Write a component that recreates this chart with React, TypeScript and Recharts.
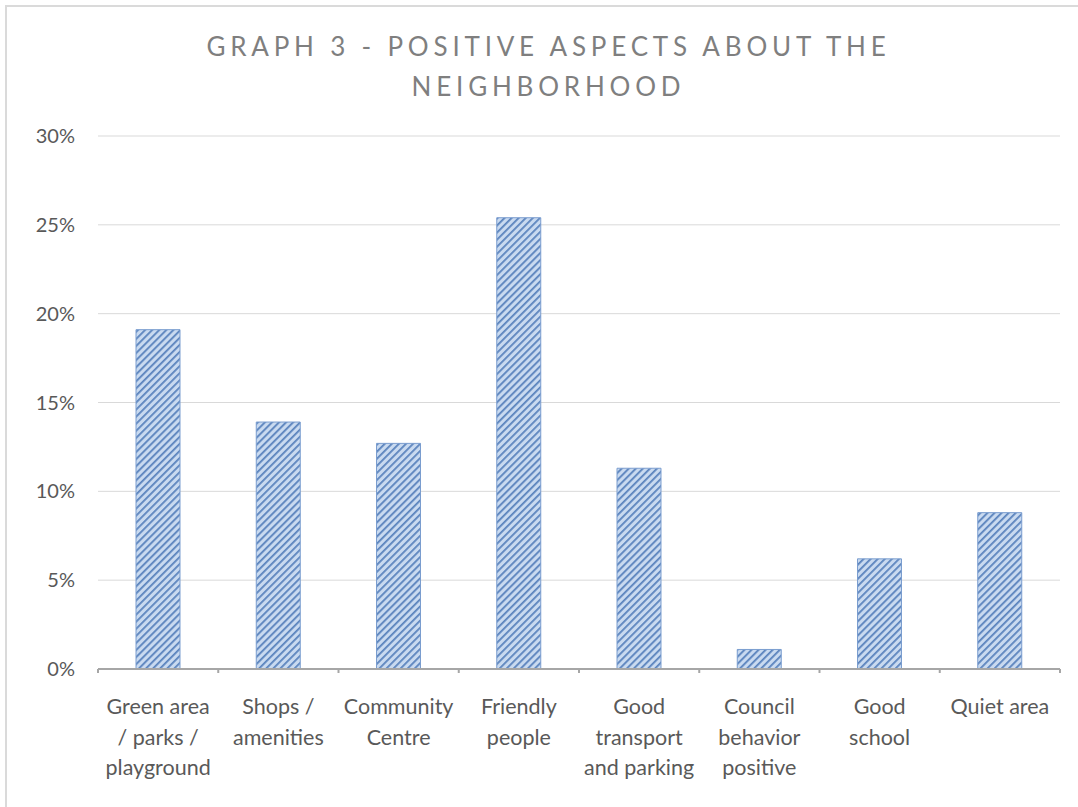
import React from "react";
import { BarChart, Bar, XAxis, YAxis, CartesianGrid } from "recharts";

const categories = [
  "Green area / parks / playground",
  "Shops / amenities",
  "Community Centre",
  "Friendly people",
  "Good transport and parking",
  "Council behavior positive",
  "Good school",
  "Quiet area",
];
const tickLines = [
  ["Green area", "/ parks /", "playground"],
  ["Shops /", "amenities"],
  ["Community", "Centre"],
  ["Friendly", "people"],
  ["Good", "transport", "and parking"],
  ["Council", "behavior", "positive"],
  ["Good", "school"],
  ["Quiet area"],
];
const values = [19.1, 13.9, 12.7, 25.4, 11.3, 1.1, 6.2, 8.8];
const yTicks = [0, 5, 10, 15, 20, 25, 30];
const titleLines = ["GRAPH 3 - POSITIVE ASPECTS ABOUT THE", "NEIGHBORHOOD"];

const data = categories.map((c, i) => ({ name: c, value: values[i], idx: i }));

const FONT = "Lato, 'Open Sans', sans-serif";

const CatTick = (props: any) => {
  const { x, y, index, width } = props;
  const n = categories.length;
  const half = (typeof width === "number" && width > 0 ? width : 962) / (2 * n);
  const lines = tickLines[index] || [];
  return (
    <g>
      <line x1={x - half} y1={y} x2={x - half} y2={y + 4} stroke="#a6a6a6" strokeWidth={2} />
      {index === n - 1 && (
        <line x1={x + half} y1={y} x2={x + half} y2={y + 4} stroke="#a6a6a6" strokeWidth={2} />
      )}
      {lines.map((l, i) => (
        <text
          key={i}
          x={x}
          y={y + 45 + i * 30.5}
          textAnchor="middle"
          fill="#595959"
          fontSize={21.5}
          fontFamily={FONT}
        >
          {l}
        </text>
      ))}
    </g>
  );
};

export default function App() {
  return (
    <div
      style={{
        position: "fixed",
        left: 0,
        top: 0,
        width: 1078,
        height: 807,
        overflow: "hidden",
        background: "#fff",
      }}
    >
      <div
        style={{
          position: "absolute",
          left: 5,
          top: 5,
          width: 1200,
          height: 1000,
          borderLeft: "2px solid #dadada",
          borderTop: "2px solid #dadada",
        }}
      />
      <div
        style={{
          position: "absolute",
          left: 0,
          top: 26,
          width: 1097,
          textAlign: "center",
          fontFamily: FONT,
          fontSize: 26,
          letterSpacing: 4.8,
          color: "#7f7f7f",
          lineHeight: "40px",
        }}
      >
        {titleLines.map((t, i) => (
          <div key={i}>{t}</div>
        ))}
      </div>
      <div style={{ position: "absolute", left: 0, top: 0 }}>
        <BarChart
          width={1078}
          height={807}
          data={data}
          margin={{ top: 136, right: 18, left: 0, bottom: 0 }}
          barSize={44}
        >
          <defs>
            <pattern
              id="hatch"
              patternUnits="userSpaceOnUse"
              width={5}
              height={5}
              patternTransform="rotate(45)"
            >
              <rect x={0} y={0} width={5} height={5} fill="#c9daf0" />
              <rect x={0} y={0} width={1.8} height={5} fill="#5a83bd" />
            </pattern>
          </defs>
          <CartesianGrid vertical={false} stroke="#d9d9d9" strokeWidth={1} />
          <XAxis
            dataKey="name"
            interval={0}
            height={138}
            axisLine={{ stroke: "#a6a6a6", strokeWidth: 2 }}
            tickLine={false}
            tickSize={0}
            tickMargin={0}
            tick={<CatTick />}
          />
          <YAxis
            width={98}
            domain={[0, 30]}
            ticks={yTicks}
            axisLine={false}
            tickLine={false}
            tickSize={0}
            tickMargin={23}
            tickFormatter={(v: number) => `${v}%`}
            tick={{ fill: "#595959", fontSize: 20, fontFamily: FONT }}
          />
          <Bar
            dataKey="value"
            fill="url(#hatch)"
            stroke="#7a9dcf"
            strokeWidth={1}
            isAnimationActive={false}
          />
        </BarChart>
      </div>
    </div>
  );
}
